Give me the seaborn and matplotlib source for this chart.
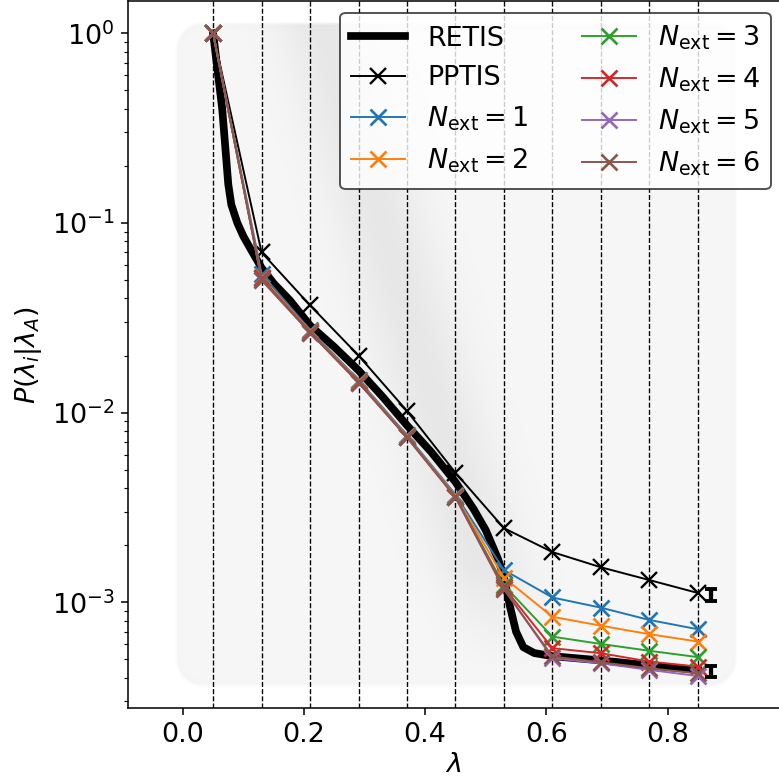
"""Crossing probabilities: RETIS vs PPTIS vs PPTIS with N_ext extra interfaces."""

import numpy as np
import pandas as pd
import matplotlib
matplotlib.use("Agg")
import matplotlib.pyplot as plt
import seaborn as sns

plt.rcParams['font.size'] = 14
plt.rcParams['font.family'] = ['DejaVu Sans']

# interface positions
interfaces = [0.05, 0.13, 0.21, 0.29, 0.37, 0.45, 0.53, 0.61, 0.69, 0.77, 0.85]

# RETIS reference curve (dense)
retis_x = [0.05, 0.065, 0.075, 0.08, 0.09, 0.10, 0.115, 0.13, 0.15, 0.177, 0.21,
           0.25, 0.29, 0.33, 0.37, 0.41, 0.45, 0.48, 0.50, 0.52, 0.53, 0.54,
           0.55, 0.562, 0.58, 0.61, 0.69, 0.77, 0.85]
retis_p = [1.0, 0.40, 0.16, 0.125, 0.10, 0.085, 0.07, 0.058, 0.048, 0.039, 0.0288,
           0.0222, 0.0167, 0.0121, 0.00857, 0.0062, 0.00431, 0.0031, 0.0024, 0.0017, 0.00136, 0.00095,
           0.0007, 0.00058, 0.00054, 0.00052, 0.000494, 0.000465, 0.00044]

pptis_p = [1.0, 0.070, 0.0368, 0.0200, 0.0102, 0.00482, 0.00246, 0.00184, 0.00153, 0.00131, 0.00112]

next_1 = [1.0, 0.054, 0.0273, 0.0149, 0.00760, 0.00370, 0.00148, 0.00106, 0.000937, 0.000807, 0.000721]
next_2 = [1.0, 0.052, 0.0269, 0.0147, 0.00750, 0.00365, 0.00135, 0.000839, 0.000753, 0.000679, 0.000621]
next_3 = [1.0, 0.051, 0.0266, 0.0145, 0.00744, 0.00360, 0.00123, 0.000659, 0.000603, 0.000555, 0.000514]
next_4 = [1.0, 0.051, 0.0266, 0.0145, 0.00744, 0.00360, 0.00120, 0.000573, 0.000539, 0.000487, 0.000458]
next_5 = [1.0, 0.050, 0.0264, 0.0144, 0.00740, 0.00358, 0.00118, 0.000507, 0.000477, 0.000440, 0.000409]
next_6 = [1.0, 0.050, 0.0264, 0.0144, 0.00740, 0.00358, 0.00117, 0.000518, 0.000483, 0.000449, 0.000422]
next_series = [next_1, next_2, next_3, next_4, next_5, next_6]
next_colors = ['#1f77b4', '#ff7f0e', '#2ca02c', '#d62728', '#9467bd', '#8c564b']

# error bars on the final values (PPTIS and RETIS)
err_x = [0.871, 0.871]
err_y = [0.001095, 0.000432]
err_lo = [0.00102, 0.000403]
err_hi = [0.00117, 0.000462]

fig = plt.figure(figsize=(779 / 139, 782 / 139), dpi=139)
rect = [0.1647, 0.0942, 0.8353, 0.9045]

# decorative grey backdrop behind the data
bg = fig.add_axes(rect, zorder=0)
bg.axis('off')
ny, nx = 400, 400
gx, gy = np.meshgrid(np.linspace(0, 1, nx), np.linspace(1, 0, ny))
x0, x1, y0, y1, r = 0.072, 0.937, 0.029, 0.970, 0.04
dx = np.maximum(np.maximum(x0 + r - gx, gx - (x1 - r)), 0)
dy = np.maximum(np.maximum(y0 + r - gy, gy - (y1 - r)), 0)
dist = np.hypot(dx, dy) - r
alpha = np.clip(-dist / 0.004, 0, 1)
# diagonal darker band
p0 = np.array([0.30, 0.97])
p1 = np.array([0.59, 0.05])
d = p1 - p0
n = np.array([-d[1], d[0]]) / np.hypot(*d)
band = (gx - p0[0]) * n[0] + (gy - p0[1]) * n[1]
shade = 0.968 - 0.06 * np.exp(-(band / 0.07) ** 2) * np.clip((gy - 0.05) / 0.15, 0, 1)
edge = np.clip(-dist / 0.015, 0, 1)
shade = shade - 0.012 * (1 - edge)
img = np.dstack([shade, shade, shade, alpha])
bg.imshow(img, extent=(0, 1, 0, 1), aspect='auto', interpolation='bilinear')
bg.set_xlim(0, 1)
bg.set_ylim(0, 1)

ax = fig.add_axes(rect, zorder=1)
ax.patch.set_visible(False)

for xi in interfaces:
    ax.axvline(xi, color='k', ls='--', lw=0.7, zorder=1)

retis_df = pd.DataFrame({'x': retis_x, 'p': retis_p})
sns.lineplot(data=retis_df, x='x', y='p', ax=ax, color='k', lw=4, label='RETIS',
             sort=False, zorder=3)

pptis_df = pd.DataFrame({'x': interfaces, 'p': pptis_p})
sns.lineplot(data=pptis_df, x='x', y='p', ax=ax, color='k', lw=1, marker='x',
             markersize=8, markeredgewidth=1.2, markeredgecolor='k',
             label='PPTIS', zorder=4)

for i, (vals, col) in enumerate(zip(next_series, next_colors)):
    df = pd.DataFrame({'x': interfaces, 'p': vals})
    sns.lineplot(data=df, x='x', y='p', ax=ax, color=col, lw=1, marker='x',
                 markersize=8, markeredgewidth=1.4, markeredgecolor=col,
                 label=r'$N_{\mathrm{ext}}=' + str(i + 1) + '$', zorder=4)

yerr = [np.array(err_y) - np.array(err_lo), np.array(err_hi) - np.array(err_y)]
ax.errorbar(err_x, err_y, yerr=yerr, fmt='none', ecolor='k', elinewidth=2.2,
            capsize=3, capthick=2, zorder=5)

ax.set_yscale('log')
ax.set_xlim(-0.09, 0.984)
ax.set_ylim(2.76e-4, 1.48)
ax.set_xticks([0.0, 0.2, 0.4, 0.6, 0.8])
ax.set_xlabel(r'$\lambda$', labelpad=2)
ax.set_ylabel(r'$P(\lambda_i|\lambda_A)$')
ax.spines['right'].set_visible(False)

leg = ax.legend(ncol=2, loc='upper right', bbox_to_anchor=(0.987, 0.983),
                borderaxespad=0, fontsize=14)
leg.get_frame().set_edgecolor('0.15')
leg.set_zorder(10)

fig.savefig('out.png', dpi=139)
